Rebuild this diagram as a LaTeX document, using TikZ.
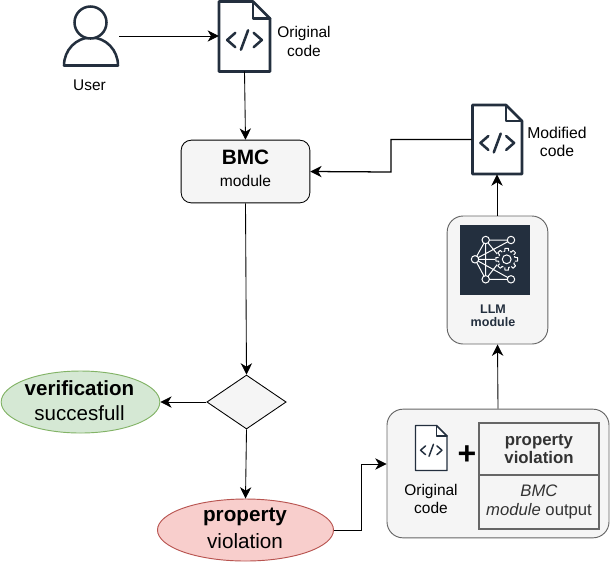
\documentclass[tikz,border=0pt]{standalone}
\usepackage{fontspec}
\setmainfont{Liberation Sans}
\usetikzlibrary{arrows.meta,shapes.geometric}
\definecolor{ink}{HTML}{232F3E}
\definecolor{panel}{HTML}{F5F5F5}
\definecolor{edge}{HTML}{666666}
\definecolor{tabtext}{HTML}{333333}
\newcommand{\fsz}[1]{\fontsize{#1}{#1}\selectfont}
\tikzset{
  x=0.75pt,y=-0.75pt,
  flow/.style={draw=black,line width=0.65pt,-{Stealth[length=8.5pt,width=8.5pt,inset=2.6pt]}},
  lab/.style={inner sep=0,align=center,text=black,font=\fsz{11.6}},
  docline/.style={draw=ink,line width=#1,line join=round,line cap=round},
  netw/.style={draw=white,line width=0.75pt},
}
% #1 left, #2 top, #3 width, #4 height, #5 fold, #6 line width
\newcommand{\docicon}[6]{%
  \draw[docline=#6,fill=white] (#1,#2) -- ({#1+#3-#5},#2) -- ({#1+#3},{#2+#5}) -- ({#1+#3},{#2+#4}) -- (#1,{#2+#4}) -- cycle;
  \draw[docline=#6] ({#1+#3-#5},#2) -- ({#1+#3-#5},{#2+#5}) -- ({#1+#3},{#2+#5});
  \pgfmathsetmacro{\cx}{#1+#3/2}
  \pgfmathsetmacro{\cy}{#2+#4*0.55}
  \pgfmathsetmacro{\u}{#3/50}
  \draw[docline=#6] ({\cx-9*\u},{\cy-7*\u}) -- ({\cx-17*\u},\cy) -- ({\cx-9*\u},{\cy+7*\u});
  \draw[docline=#6] ({\cx+9*\u},{\cy-7*\u}) -- ({\cx+17*\u},\cy) -- ({\cx+9*\u},{\cy+7*\u});
  \draw[docline=#6] ({\cx+3.5*\u},{\cy-9.5*\u}) -- ({\cx-3.5*\u},{\cy+9.5*\u});
}
\begin{document}
\begin{tikzpicture}
\useasboundingbox (0,0) rectangle (610,562);
\coordinate (uout) at (119,36);
\node[inner sep=0,minimum width=38pt,minimum height=52.5pt] (orig) at (244.5,36) {};
\node[inner sep=0,minimum width=37.5pt,minimum height=52pt] (mod) at (497,139.5) {};
\docicon{219}{1.5}{51}{70}{17}{1.9pt}
\docicon{472.5}{105}{49.5}{69}{16}{1.9pt}
% user
\draw[docline=1.9pt,fill=white] (64,65.5) arc[start angle=180,end angle=360,x radius=27,y radius=28] -- cycle;
\draw[docline=1.9pt,fill=white] (90.5,22.5) circle[radius=16];
\node[lab] (user) at (89.5,85) {User};
\node[lab] (origlab) at (304,41.5) {Original\\[2.2pt]code};
\node[lab,font=\fsz{11.8}] (modlab) at (557,142) {Modified\\[2pt]code};
% BMC
\node[draw=black,fill=panel,rounded corners=7.5pt,line width=0.65pt,minimum width=96.5pt,minimum height=47pt,inner sep=0] (bmc) at (245.5,171.5) {};
\node[inner sep=0,font=\fsz{15.6}\bfseries] (bmct) at (245.5,157) {BMC};
\node[inner sep=0,font=\fsz{11.7}] (bmcs) at (245.5,180.5) {module};
% diamond
\node[diamond,aspect=1.46,draw=black,fill=panel,line width=0.65pt,minimum width=59.5pt,minimum height=40.5pt,inner sep=0] (dec) at (246.5,402) {};
% ellipses
\node[ellipse,draw={rgb,255:red,130;green,179;blue,102},fill={rgb,255:red,213;green,232;blue,212},line width=0.7pt,minimum width=119pt,minimum height=46.5pt,inner sep=0] (ok) at (80.5,402) {};
\node[inner sep=0,font=\fsz{15.4}\bfseries] (okt) at (79.5,388) {verification};
\node[inner sep=0,font=\fsz{15.4}] (oks) at (79.5,413) {succesfull};
\node[ellipse,draw={rgb,255:red,184;green,84;blue,80},fill={rgb,255:red,248;green,206;blue,204},line width=0.7pt,minimum width=132pt,minimum height=46.5pt,inner sep=0] (bad) at (245.5,530) {};
\node[inner sep=0,font=\fsz{15.5}\bfseries] (badt) at (245,517) {property};
\node[inner sep=0,font=\fsz{15.5}] (bads) at (245,541) {violation};
% LLM
\node[draw=edge,fill=panel,rounded corners=12pt,line width=0.7pt,minimum width=75.5pt,minimum height=96pt,inner sep=0] (llm) at (497.5,280) {};
\fill[ink] (460,225) rectangle (530,295);
\begin{scope}[netw]
\draw (485.7,240) -- (475,259.3) (485.7,240) -- (485.7,279.3) (485.7,240) -- (498,255)
      (511,240) -- (475,259.3) (475,259.3) -- (495,259.3) (475,259.3) -- (485.7,279.3)
      (475,259.3) -- (511,279.3) (511,279.3) -- (485.7,279.3) (485.7,279.3) -- (498,263.5)
      (485.7,240) -- (511,240);
\foreach \p in {(485.7,240),(511,240),(475,259.3),(485.7,279.3),(511,279.3)}
  \draw[fill=ink] \p circle[radius=3.7];
\begin{scope}[shift={(506.7,259.3)}]
\fill[ink] (0,0) circle[radius=11];
\foreach \a in {0,45,...,315}{
  \draw[line join=round] (\a-22:8.4) arc[start angle=\a-22,end angle=\a-13,radius=8.4] -- (\a-9:11) -- (\a+9:11) -- (\a+13:8.4);
}
\draw (0,0) circle[radius=4.4];
\end{scope}
\end{scope}
\node[inner sep=0,align=center,text=ink,font=\fsz{9.4}\bfseries] (llmt) at (493,315.5) {LLM\\[0.6pt]module};
% big box
\node[draw=edge,fill=panel,rounded corners=12pt,line width=0.7pt,minimum width=166.5pt,minimum height=96.5pt,inner sep=0] (big) at (498,473.5) {};
\docicon{415.5}{425.5}{31.5}{45}{10.5}{1.1pt}
\node[lab] (biglab) at (431,499) {Original\\[2pt]code};
\node[inner sep=0,font=\fsz{24}\bfseries] (plus) at (467,455) {+};
\node[draw=edge,line width=0.8pt,minimum width=90pt,minimum height=39pt,inner sep=0,align=center,font=\fsz{12.6}\bfseries,text=tabtext] (pv) at (539,449) {property\\[1pt]violation};
\node[draw=edge,line width=0.8pt,minimum width=90pt,minimum height=40.5pt,inner sep=0,align=center,font=\fsz{12.5},text=tabtext] (out) at (539,502) {\itshape BMC\\[2pt]\itshape module\upshape{} output};
% connectors
\draw[flow] (uout) -- (orig.west);
\draw[flow] (orig.south) -- (bmc.north);
\draw[flow] (bmc.south) -- (dec.north);
\draw[flow] (dec.west) -- (ok.east);
\draw[flow] (dec.south) -- (bad.north);
\draw[flow] (bad.east) -- (361,530) -- (361,464) -- (big.west |- 0,464);
\draw[flow] (big.north) -- (llm.south);
\draw[flow] (llm.north -| mod.south) -- (mod.south);
\draw[flow,line width=0.95pt] (mod.west) -- (391,139.5) -- (391,172) -- (bmc.east);
\end{tikzpicture}
\end{document}
